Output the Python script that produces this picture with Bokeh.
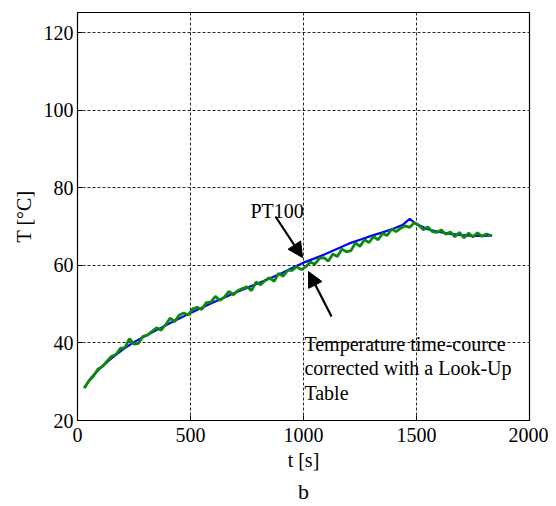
from bokeh.plotting import figure
from bokeh.models import Label, Arrow, NormalHead, FixedTicker, Title
from bokeh.embed import file_html
from bokeh.resources import INLINE

# ---- data ----
t_pt100 = [30, 60, 100, 150, 200, 250, 300, 350, 400, 450, 500, 550, 600, 650, 700,
           750, 800, 850, 900, 950, 1000, 1050, 1100, 1150, 1200, 1250, 1300, 1350,
           1400, 1440, 1470, 1500, 1550, 1600, 1650, 1700, 1750, 1800, 1835]
T_pt100 = [28.5, 31.0, 33.5, 36.0, 38.3, 40.2, 41.8, 43.3, 44.8, 46.3, 47.7, 49.1, 50.4,
           51.7, 53.0, 54.2, 55.4, 56.6, 57.9, 59.3, 60.7, 61.8, 63.0, 64.3, 65.6, 66.6,
           67.6, 68.5, 69.5, 70.5, 72.0, 70.6, 69.3, 68.6, 68.1, 67.8, 67.6, 67.6, 67.7]

t_lut = [30, 50, 70, 90, 110, 130, 150, 170, 190, 210, 230, 250, 270, 290, 310, 330, 350,
         370, 390, 410, 430, 450, 470, 490, 510, 530, 550, 570, 590, 610, 630, 650, 670,
         690, 710, 730, 750, 770, 790, 810, 830, 850, 870, 890, 910, 930, 950, 970, 990,
         1010, 1030, 1050, 1070, 1090, 1110, 1130, 1150, 1170, 1190, 1210, 1230, 1250,
         1270, 1290, 1310, 1330, 1350, 1370, 1390, 1410, 1430, 1450, 1470, 1490, 1510,
         1530, 1550, 1570, 1590, 1610, 1630, 1650, 1670, 1690, 1710, 1730, 1750, 1770,
         1790, 1810, 1830]
T_lut = [28.3, 30.2, 31.4, 33.2, 33.9, 35.2, 36.5, 37.0, 38.6, 38.8, 41.1, 39.7, 39.9,
         41.7, 42.0, 43.0, 43.9, 43.3, 44.7, 46.4, 45.5, 47.2, 47.7, 47.2, 48.8, 49.2,
         48.6, 50.4, 50.5, 52.0, 51.0, 51.8, 53.3, 52.4, 53.5, 54.0, 54.5, 53.5, 55.7,
         55.0, 56.1, 56.8, 55.9, 57.9, 57.2, 58.7, 58.7, 59.7, 58.9, 59.6, 60.9, 60.3,
         61.8, 62.0, 61.1, 62.9, 62.3, 64.2, 63.5, 63.8, 65.8, 64.9, 66.6, 65.9, 67.4,
         66.6, 68.2, 67.7, 69.3, 68.7, 69.6, 70.2, 69.8, 71.0, 70.4, 69.2, 69.9, 68.7,
         68.5, 69.1, 68.0, 68.6, 67.4, 68.5, 67.1, 68.3, 67.3, 68.4, 67.5, 68.1, 67.7]

x_ticks = [0, 500, 1000, 1500, 2000]
y_ticks = [20, 40, 60, 80, 100, 120]

# annotation anchors (data coordinates)
pt100_label = (765, 74.1)
pt100_arrow = (876, 72.6, 996, 62.0)
lut_lines = ["Temperature time-cource", "corrected with a Look-Up", "Table"]
lut_label_x = 1004
lut_label_y = [39.8, 33.6, 27.2]
lut_arrow = (1124, 46.8, 1022, 58.4)
panel_text = "b"

FONT = "Liberation Serif"
FS = "20px"

p = figure(width=548, height=506, x_range=(0, 2000), y_range=(20, 125.2),
           output_backend="svg", toolbar_location=None,
           min_border_left=77, min_border_right=19, min_border_top=12, min_border_bottom=0)
p.background_fill_color = "white"
p.border_fill_color = "white"
p.outline_line_color = "black"
p.outline_line_width = 1.2

for ax in (p.xaxis[0], p.yaxis[0]):
    ax.major_label_text_font = FONT
    ax.major_label_text_font_size = FS
    ax.major_label_text_color = "black"
    ax.axis_label_text_font = FONT
    ax.axis_label_text_font_size = FS
    ax.axis_label_text_font_style = "normal"
    ax.axis_label_text_color = "black"
    ax.major_tick_in = 5
    ax.major_tick_out = 0
    ax.minor_tick_in = 0
    ax.minor_tick_out = 0
    ax.axis_line_color = "black"
    ax.major_tick_line_color = "black"

p.xaxis.ticker = FixedTicker(ticks=x_ticks)
p.yaxis.ticker = FixedTicker(ticks=y_ticks)
p.xaxis.axis_label = "t [s]"
p.yaxis.axis_label = "T [°C]"
p.xaxis.major_label_standoff = 7
p.yaxis.major_label_standoff = 4
p.xaxis.axis_label_standoff = 4
p.yaxis.axis_label_standoff = 6

p.xgrid.ticker = FixedTicker(ticks=x_ticks)
p.ygrid.ticker = FixedTicker(ticks=y_ticks)
for g in (p.xgrid[0], p.ygrid[0]):
    g.grid_line_color = "black"
    g.grid_line_alpha = 0.85
    g.grid_line_dash = "3 2"
    g.grid_line_width = 1

p.line(t_pt100, T_pt100, line_color="#0000ff", line_width=2.2)
p.line(t_lut, T_lut, line_color="#0a8a0a", line_width=2.8)

p.add_layout(Label(x=pt100_label[0], y=pt100_label[1], text="PT100",
                   text_font=FONT, text_font_size=FS, text_color="black",
                   text_baseline="alphabetic"))
for txt, yy in zip(lut_lines, lut_label_y):
    p.add_layout(Label(x=lut_label_x, y=yy, text=txt, text_font=FONT,
                       text_font_size=FS, text_color="black", text_baseline="alphabetic"))

for (x0, y0, x1, y1) in (pt100_arrow, lut_arrow):
    p.add_layout(Arrow(x_start=x0, y_start=y0, x_end=x1, y_end=y1, line_width=2.2,
                       line_color="black",
                       end=NormalHead(size=15, fill_color="black", line_color="black")))

p.add_layout(Title(text=panel_text, align="center", text_font=FONT, text_font_size="22px",
                   text_font_style="normal", text_color="black", standoff=6), "below")

out = file_html(p, INLINE)
open("out.html", "w").write(out)
